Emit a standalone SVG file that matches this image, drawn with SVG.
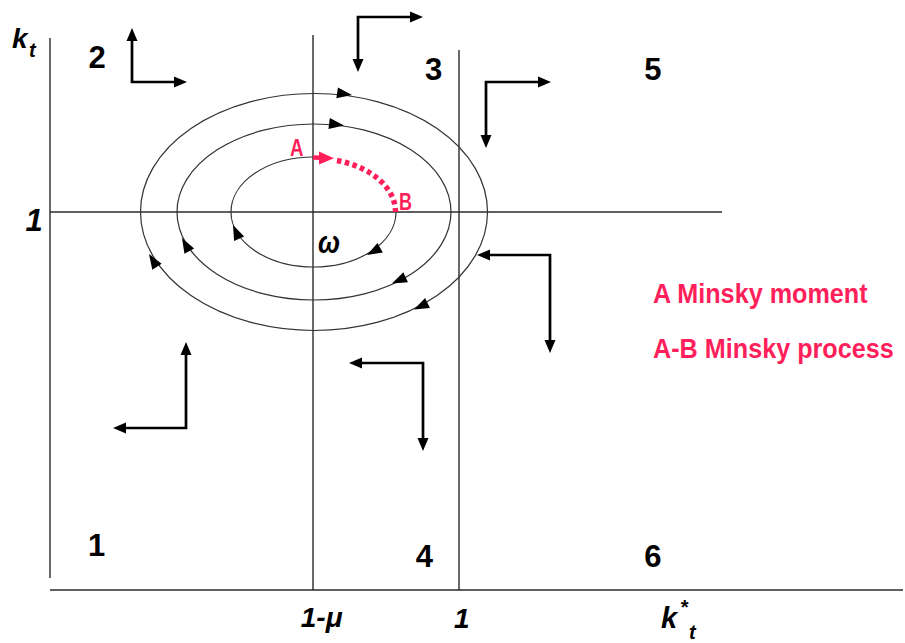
<svg xmlns="http://www.w3.org/2000/svg" xmlns:xlink="http://www.w3.org/1999/xlink" width="905" height="643" viewBox="0 0 905 643">
<style>
.ax{stroke:#2a2a2a;stroke-width:1.4;fill:none}
.orb{stroke:#333;stroke-width:1.2;fill:none}
.arr{stroke:#000;stroke-width:2.7;fill:none;marker-start:url(#ah);marker-end:url(#ah)}
.num{font-family:"Liberation Sans",Arial,sans-serif;font-weight:bold;font-size:31px;fill:#000;text-anchor:middle}
.lab{font-family:"Liberation Sans",Arial,sans-serif;font-weight:bold;font-style:italic;fill:#000}
.pk{font-family:"Liberation Sans",Arial,sans-serif;font-weight:bold;fill:#FF1F5B}
</style>
<defs>
<marker id="ah" markerUnits="userSpaceOnUse" markerWidth="14" markerHeight="12" refX="0" refY="5.5" orient="auto-start-reverse" overflow="visible">
<path d="M0,0 L13,5.5 L0,11 Z" fill="#000"/>
</marker>
<path id="oh" d="M0,0 L-15,-5.5 L-15,5.5 Z" fill="#000"/>
</defs>
<rect width="905" height="643" fill="#fff"/>
<g id="axes">
<line class="ax" x1="50" y1="38" x2="50" y2="578"/>
<line class="ax" x1="50" y1="590" x2="903" y2="590"/>
<line class="ax" x1="313" y1="35" x2="313" y2="590"/>
<line class="ax" x1="459" y1="50" x2="459" y2="590"/>
<line class="ax" x1="50" y1="212" x2="722" y2="212"/>
</g>
<g id="orbits">
<ellipse class="orb" cx="314" cy="212" rx="173.5" ry="118.5"/>
<ellipse class="orb" cx="314" cy="212" rx="137" ry="88"/>
<path class="orb" d="M396,212 A82.5,55 0 1,1 313.5,157"/>
<use xlink:href="#oh" href="#oh" transform="translate(352,95) rotate(8.2)"/>
<use xlink:href="#oh" href="#oh" transform="translate(344,125.5) rotate(7.6)"/>
<use xlink:href="#oh" href="#oh" transform="translate(414,309.5) rotate(154.1)"/>
<use xlink:href="#oh" href="#oh" transform="translate(149,254) rotate(-122)"/>
<use xlink:href="#oh" href="#oh" transform="translate(392,283.5) rotate(155.3)"/>
<use xlink:href="#oh" href="#oh" transform="translate(182,238) rotate(-119)"/>
<use xlink:href="#oh" href="#oh" transform="translate(367,255) rotate(151.1)"/>
<use xlink:href="#oh" href="#oh" transform="translate(233,225) rotate(-114)"/>
</g>
<g id="minsky">
<line x1="313" y1="157.5" x2="321" y2="157.8" stroke="#FF1F5B" stroke-width="4.5"/>
<path d="M319,151.5 L334,158.3 L319,164.5 Z" fill="#FF1F5B"/>
<path d="M337,160.5 A81,53.5 0 0,1 395.5,212" fill="none" stroke="#FF1F5B" stroke-width="5.5" stroke-dasharray="4.5 3.5"/>
<text class="pk" x="290" y="156" font-size="24" textLength="13.5" lengthAdjust="spacingAndGlyphs">A</text>
<text class="pk" x="399" y="209.5" font-size="23" textLength="13" lengthAdjust="spacingAndGlyphs">B</text>
</g>
<g id="connectors">
<polyline class="arr" points="132,41 132,82 174,82"/>
<polyline class="arr" points="358,59 358,17 410,17"/>
<polyline class="arr" points="486,135 486,82 538,82"/>
<polyline class="arr" points="490,255 550,255 550,340"/>
<polyline class="arr" points="186,355 186,428 126,428"/>
<polyline class="arr" points="362,363 423,363 423,438"/>
</g>
<g id="regions">
<text class="num" x="97" y="68">2</text>
<text class="num" x="433.5" y="80">3</text>
<text class="num" x="652.8" y="80">5</text>
<text class="num" x="96.5" y="556">1</text>
<text class="num" x="424.3" y="567">4</text>
<text class="num" x="652.8" y="567">6</text>
</g>
<g id="labels">
<text class="lab" x="12" y="48" font-size="28">k</text>
<text class="lab" x="29" y="57" font-size="20">t</text>
<text class="lab" x="34" y="231" font-size="31" text-anchor="middle">1</text>
<text class="lab" x="321.7" y="627" font-size="28" text-anchor="middle">1-μ</text>
<text class="lab" x="461.7" y="628" font-size="28" text-anchor="middle">1</text>
<text class="lab" x="661" y="628" font-size="29">k</text>
<text class="lab" x="680" y="614" font-size="20">*</text>
<text class="lab" x="689" y="639" font-size="20">t</text>
<text class="lab" x="318" y="253" font-size="31" font-style="normal" textLength="22" lengthAdjust="spacingAndGlyphs">ω</text>
</g>
<g id="legend">
<text class="pk" font-size="28" transform="translate(653,303) scale(0.9,1)">A Minsky moment</text>
<text class="pk" font-size="28" transform="translate(653,357.5) scale(0.9,1)">A-B Minsky process</text>
</g>
</svg>
